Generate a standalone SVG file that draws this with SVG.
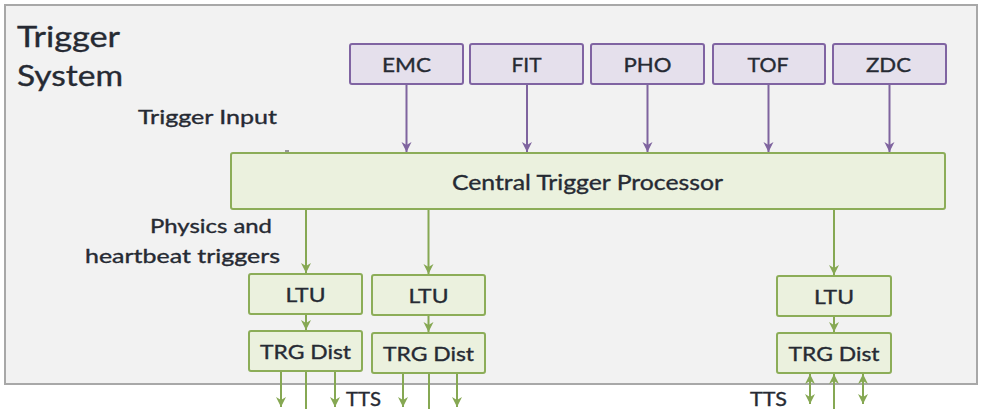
<svg xmlns="http://www.w3.org/2000/svg" width="981" height="409" viewBox="0 0 981 409">
  <style>
    .txt { font-family: Lato, "Open Sans", "Liberation Sans", sans-serif; fill: #262a33; stroke: #262a33; stroke-width: 0.35; }
    .det rect { fill: #e5e0ec; stroke: #8064a2; stroke-width: 2; }
    .grn rect { fill: #ebf1de; stroke: #8cad58; stroke-width: 2; }
    .lbl { font-size: 20px; text-anchor: middle; }
    .pl { stroke: #7f649f; stroke-width: 2; fill: none; }
    .gl { stroke: #86a853; stroke-width: 2; fill: none; }
  </style>
  <defs>
    <marker id="ap" viewBox="0 0 10 10" refX="10" refY="5" markerWidth="10" markerHeight="11" markerUnits="userSpaceOnUse" orient="auto-start-reverse">
      <path d="M0,0 L10,5 L0,10 L3,5 z" fill="#7f649f"/>
    </marker>
    <marker id="ag" viewBox="0 0 10 10" refX="10" refY="5" markerWidth="10" markerHeight="11" markerUnits="userSpaceOnUse" orient="auto-start-reverse">
      <path d="M0,0 L10,5 L0,10 L3,5 z" fill="#86a853"/>
    </marker>
  </defs>

  <rect width="981" height="409" fill="#ffffff"/>

  <!-- system frame -->
  <g id="system">
    <rect x="5" y="5" width="972" height="379" fill="#f2f2f2" stroke="#a8a8a8" stroke-width="2"/>
    <text class="txt" x="17" y="47" font-size="28" textLength="103" lengthAdjust="spacingAndGlyphs">Trigger</text>
    <text class="txt" x="17" y="86" font-size="28" textLength="106" lengthAdjust="spacingAndGlyphs">System</text>
    <text class="txt" x="138" y="124" font-size="19" textLength="139" lengthAdjust="spacingAndGlyphs">Trigger Input</text>
    <text class="txt" x="150" y="233" font-size="19" textLength="122" lengthAdjust="spacingAndGlyphs">Physics and</text>
    <text class="txt" x="85" y="263" font-size="19" textLength="195" lengthAdjust="spacingAndGlyphs">heartbeat triggers</text>
    <line x1="285" y1="151" x2="289" y2="151" stroke="#777" stroke-width="1.5"/>
  </g>

  <!-- detector inputs -->
  <g id="emc" class="det"><rect x="350" y="44" width="113" height="40" rx="2"/><text class="txt lbl" x="406.5" y="72" textLength="49" lengthAdjust="spacingAndGlyphs">EMC</text></g>
  <g id="fit" class="det"><rect x="470" y="44" width="113" height="40" rx="2"/><text class="txt lbl" x="526.5" y="72" textLength="30" lengthAdjust="spacingAndGlyphs">FIT</text></g>
  <g id="pho" class="det"><rect x="591" y="44" width="113" height="40" rx="2"/><text class="txt lbl" x="647.5" y="72" textLength="48" lengthAdjust="spacingAndGlyphs">PHO</text></g>
  <g id="tof" class="det"><rect x="713" y="44" width="112" height="40" rx="2"/><text class="txt lbl" x="768" y="72" textLength="41" lengthAdjust="spacingAndGlyphs">TOF</text></g>
  <g id="zdc" class="det"><rect x="833" y="44" width="113" height="40" rx="2"/><text class="txt lbl" x="888.5" y="72" textLength="45" lengthAdjust="spacingAndGlyphs">ZDC</text></g>

  <!-- central processor -->
  <g id="ctp" class="grn">
    <rect x="231" y="153" width="714" height="56" rx="2"/>
    <text class="txt" x="452" y="190" font-size="21" textLength="271" lengthAdjust="spacingAndGlyphs">Central Trigger Processor</text>
  </g>

  <!-- local trigger units -->
  <g id="ltu1" class="grn"><rect x="249" y="274" width="113" height="40" rx="2"/><text class="txt lbl" x="305.5" y="302" textLength="40" lengthAdjust="spacingAndGlyphs">LTU</text></g>
  <g id="ltu2" class="grn"><rect x="372" y="275" width="113" height="40" rx="2"/><text class="txt lbl" x="428.5" y="303" textLength="40" lengthAdjust="spacingAndGlyphs">LTU</text></g>
  <g id="ltu3" class="grn"><rect x="777" y="276" width="114" height="40" rx="2"/><text class="txt lbl" x="834" y="304" textLength="40" lengthAdjust="spacingAndGlyphs">LTU</text></g>

  <!-- distribution boxes -->
  <g id="dist1" class="grn"><rect x="249" y="331" width="113" height="40" rx="2"/><text class="txt lbl" x="305.5" y="359" textLength="91" lengthAdjust="spacingAndGlyphs">TRG Dist</text></g>
  <g id="dist2" class="grn"><rect x="372" y="333" width="113" height="40" rx="2"/><text class="txt lbl" x="428.5" y="361" textLength="91" lengthAdjust="spacingAndGlyphs">TRG Dist</text></g>
  <g id="dist3" class="grn"><rect x="777" y="333" width="114" height="40" rx="2"/><text class="txt lbl" x="834" y="361" textLength="91" lengthAdjust="spacingAndGlyphs">TRG Dist</text></g>

  <!-- TTS labels -->
  <g id="tts">
    <text class="txt" x="346" y="406" font-size="19" textLength="35" lengthAdjust="spacingAndGlyphs">TTS</text>
    <text class="txt" x="750" y="406" font-size="19" textLength="37" lengthAdjust="spacingAndGlyphs">TTS</text>
  </g>

  <g id="connectors">
    <!-- detector inputs into processor -->
    <line class="pl" x1="406.5" y1="85" x2="406.5" y2="152" marker-end="url(#ap)"/>
    <line class="pl" x1="527" y1="85" x2="527" y2="152" marker-end="url(#ap)"/>
    <line class="pl" x1="647.5" y1="85" x2="647.5" y2="152" marker-end="url(#ap)"/>
    <line class="pl" x1="768.5" y1="85" x2="768.5" y2="152" marker-end="url(#ap)"/>
    <line class="pl" x1="889.5" y1="85" x2="889.5" y2="152" marker-end="url(#ap)"/>

    <!-- processor to LTUs -->
    <line class="gl" x1="306" y1="210" x2="306" y2="273" marker-end="url(#ag)"/>
    <line class="gl" x1="428.5" y1="210" x2="428.5" y2="274" marker-end="url(#ag)"/>
    <line class="gl" x1="834" y1="210" x2="834" y2="275" marker-end="url(#ag)"/>

    <!-- LTU to distribution -->
    <line class="gl" x1="306" y1="315" x2="306" y2="330" marker-end="url(#ag)"/>
    <line class="gl" x1="428.5" y1="316" x2="428.5" y2="332" marker-end="url(#ag)"/>
    <line class="gl" x1="834" y1="317" x2="834" y2="332" marker-end="url(#ag)"/>

    <!-- outputs -->
    <line class="gl" x1="281" y1="372" x2="281" y2="407" marker-end="url(#ag)"/>
    <line class="gl" x1="306" y1="372" x2="306" y2="409"/>
    <line class="gl" x1="335" y1="372" x2="335" y2="407" marker-end="url(#ag)"/>
    <line class="gl" x1="403" y1="374" x2="403" y2="407" marker-end="url(#ag)"/>
    <line class="gl" x1="429" y1="374" x2="429" y2="409"/>
    <line class="gl" x1="457" y1="374" x2="457" y2="407" marker-end="url(#ag)"/>

    <!-- bidirectional links -->
    <line class="gl" x1="810" y1="374" x2="810" y2="404" marker-start="url(#ag)" marker-end="url(#ag)"/>
    <line class="gl" x1="834" y1="374" x2="834" y2="409" marker-start="url(#ag)"/>
    <line class="gl" x1="863" y1="374" x2="863" y2="404" marker-start="url(#ag)" marker-end="url(#ag)"/>
  </g>
</svg>
